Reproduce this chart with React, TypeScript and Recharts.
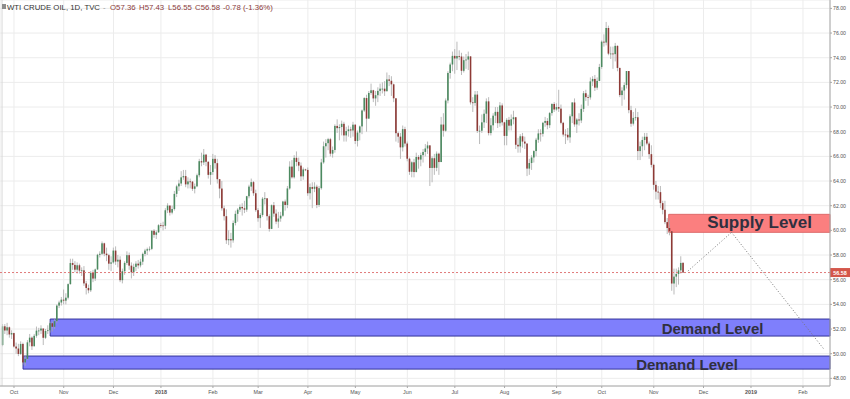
import React from 'react'
import {
  ComposedChart,
  Bar,
  XAxis,
  YAxis,
  CartesianGrid,
  ReferenceArea,
  ReferenceLine,
  ReferenceDot,
} from 'recharts'

// daily candles as [high, low, close]; open = previous close
const firstOpen = 50.7
const sep17 = [[52.4, 50.6, 52.22], [52.4, 51.6, 51.88], [52.5, 51.5, 52.14], [52.2, 51.3, 51.56], [51.9, 51.2, 51.67]]
const oct17 = [
  [51.7, 50.5, 50.58], [50.9, 50.0, 50.42], [50.8, 49.8, 49.98], [51.0, 49.9, 50.79], [50.9, 49.1, 49.29],
  [49.9, 49.0, 49.58], [51.1, 49.5, 50.92], [51.6, 50.6, 51.3], [51.4, 50.3, 50.6], [51.6, 50.6, 51.45],
  [52.2, 51.3, 51.87], [52.1, 51.5, 51.88], [52.3, 51.6, 52.04], [52.0, 50.7, 51.29], [52.0, 51.2, 51.84],
  [52.3, 51.6, 51.9], [52.6, 51.7, 52.47], [52.6, 51.8, 52.18], [52.8, 52.0, 52.64], [54.0, 52.5, 53.9],
  [54.3, 53.7, 54.15], [54.6, 53.9, 54.38],
]
const nov17 = [
  [55.2, 54.0, 54.3], [54.9, 54.0, 54.54], [55.7, 54.4, 55.64], [57.7, 55.6, 57.35], [57.7, 56.8, 57.2],
  [57.5, 56.6, 56.81], [57.4, 56.5, 57.17], [57.3, 56.5, 56.74], [57.0, 56.3, 56.76], [57.1, 55.5, 55.7],
  [55.9, 54.8, 55.33], [55.6, 54.9, 55.14], [56.7, 55.0, 56.55], [56.8, 55.8, 56.09], [56.9, 55.9, 56.83],
  [58.1, 56.8, 58.02], [58.3, 57.8, 58.1], [59.1, 58.0, 58.95], [59.0, 57.9, 58.11], [58.6, 57.5, 57.99],
  [58.1, 56.8, 57.3], [57.9, 56.7, 57.4],
]
const dec17 = [
  [58.6, 57.3, 58.36], [58.7, 57.2, 57.47], [58.0, 57.0, 57.62], [57.9, 55.8, 55.96], [56.9, 55.7, 56.69],
  [57.5, 56.4, 57.36], [58.3, 57.2, 57.99], [58.2, 56.8, 57.14], [57.4, 56.1, 56.6], [57.3, 56.3, 57.04],
  [57.5, 56.7, 57.3], [57.6, 56.9, 57.16], [57.7, 57.0, 57.46], [58.2, 57.2, 58.09], [58.5, 57.9, 58.36],
  [58.6, 58.0, 58.47], [58.7, 58.3, 58.5], [60.0, 58.4, 59.97], [60.1, 59.4, 59.64], [60.0, 59.3, 59.84],
  [60.5, 59.8, 60.42],
]
const jan18 = [
  [60.6, 60.2, 60.4], [60.7, 60.0, 60.37], [61.8, 60.1, 61.63], [62.2, 61.4, 62.01], [62.0, 61.2, 61.44],
  [62.0, 61.3, 61.73], [63.2, 61.6, 62.96], [63.7, 62.7, 63.57], [64.1, 63.2, 63.8], [64.8, 63.6, 64.3],
  [64.9, 64.1, 64.4], [64.9, 63.5, 63.73], [64.3, 63.4, 63.97], [64.2, 63.4, 63.95], [64.0, 63.2, 63.37],
  [63.8, 63.0, 63.57], [64.6, 63.5, 64.47], [65.8, 64.3, 65.61], [66.3, 65.2, 65.51], [66.6, 65.3, 66.14],
  [66.2, 65.2, 65.56], [65.6, 64.2, 64.5], [65.3, 63.7, 64.73],
]
const feb18 = [
  [66.2, 64.5, 65.8], [66.1, 65.0, 65.45], [65.8, 63.8, 64.15], [64.1, 62.6, 63.39], [64.0, 61.6, 61.79],
  [62.0, 60.8, 61.15], [61.7, 58.9, 59.2], [60.0, 58.8, 59.29], [59.8, 58.6, 59.19], [60.8, 59.0, 60.6],
  [61.6, 60.4, 61.34], [61.8, 60.7, 61.68], [62.1, 61.5, 61.9], [62.2, 61.2, 61.79], [62.4, 61.4, 61.68],
  [62.8, 61.5, 62.77], [63.7, 62.6, 63.55], [64.2, 63.2, 63.91], [64.0, 62.8, 63.01], [63.3, 61.5, 61.64],
]
const mar18 = [
  [61.8, 60.7, 60.99], [61.4, 60.2, 61.25], [62.7, 61.1, 62.57], [63.1, 62.1, 62.6], [62.5, 60.8, 61.15],
  [61.3, 59.9, 60.12], [62.1, 60.1, 62.04], [62.3, 61.1, 61.36], [61.7, 60.5, 60.71], [61.5, 60.2, 60.96],
  [61.5, 60.7, 61.19], [62.4, 61.1, 62.34], [62.5, 61.6, 62.06], [63.6, 61.8, 63.4], [65.6, 63.3, 65.17],
  [65.7, 64.2, 64.3], [66.1, 64.2, 65.88], [66.4, 65.2, 65.55], [65.9, 64.8, 65.25], [65.5, 64.0, 64.38],
  [65.1, 64.1, 64.94], [65.0, 64.8, 64.9],
]
const apr18 = [
  [65.1, 62.8, 63.01], [63.8, 62.5, 63.51], [63.9, 61.8, 63.37], [63.9, 63.1, 63.54], [63.7, 61.8, 62.06],
  [63.6, 61.9, 63.42], [65.8, 63.3, 65.51], [67.2, 65.4, 66.82], [67.4, 65.9, 67.07], [67.5, 66.5, 67.39],
  [67.5, 66.0, 66.22], [66.8, 65.9, 66.52], [68.6, 66.3, 68.47], [69.0, 67.9, 68.29], [68.6, 67.3, 68.38],
  [68.9, 67.7, 68.64], [68.8, 67.2, 67.7], [68.4, 67.2, 68.05], [68.5, 67.6, 68.19], [68.4, 67.5, 68.1],
  [68.8, 67.6, 68.57],
]
const may18 = [
  [68.6, 67.0, 67.25], [68.1, 66.8, 67.93], [68.5, 67.3, 68.43], [69.8, 67.8, 69.72], [70.8, 69.6, 70.73],
  [71.0, 68.0, 69.06], [71.3, 69.3, 71.14], [71.9, 71.0, 71.36], [71.4, 70.4, 70.7], [71.3, 70.1, 70.96],
  [71.6, 70.4, 71.31], [71.9, 70.9, 71.49], [72.0, 71.1, 71.49], [72.1, 70.9, 71.28], [72.8, 71.4, 72.24],
  [72.6, 71.7, 72.13], [72.5, 70.9, 71.84], [71.9, 70.4, 70.71], [70.6, 67.2, 67.88], [68.0, 67.1, 67.6],
  [67.9, 65.8, 66.73], [68.5, 66.4, 68.21], [68.4, 66.8, 67.04],
]
const jun18 = [
  [67.2, 65.6, 65.81], [65.9, 64.5, 64.75], [65.6, 64.3, 65.52], [65.8, 64.3, 64.73], [66.3, 64.7, 65.95],
  [66.1, 65.0, 65.74], [66.3, 65.2, 66.1], [66.6, 65.5, 66.36], [67.0, 66.0, 66.64], [67.2, 66.2, 66.89],
  [66.9, 63.6, 65.06], [66.0, 63.9, 65.85], [66.2, 64.5, 65.07], [66.4, 64.8, 66.22], [66.3, 64.5, 65.54],
  [69.2, 65.6, 68.58], [69.5, 67.6, 68.08], [70.7, 68.0, 70.53], [72.9, 70.3, 72.76], [73.6, 72.3, 73.45],
  [74.5, 72.9, 74.15],
]
const jul18 = [
  [74.7, 72.7, 73.94], [75.3, 73.0, 74.14], [74.6, 73.8, 74.1], [74.4, 72.6, 72.94], [74.1, 72.8, 73.8],
  [74.3, 73.1, 73.85], [74.5, 73.0, 74.11], [73.9, 70.2, 70.38], [70.8, 69.6, 70.33], [71.3, 70.1, 71.01],
  [71.3, 67.9, 68.06], [68.5, 67.0, 68.08], [69.4, 67.9, 68.76], [69.8, 68.3, 69.46], [70.7, 68.7, 70.46],
  [70.8, 67.7, 67.89], [69.1, 67.7, 68.52], [69.5, 68.1, 69.3], [70.0, 68.7, 69.61], [70.0, 68.3, 68.69],
  [70.4, 68.4, 70.13], [70.3, 68.5, 68.76],
]
const aug18 = [
  [68.8, 66.9, 67.66], [69.1, 66.9, 68.96], [69.2, 68.1, 68.49], [69.4, 68.1, 69.01], [69.7, 68.6, 69.17],
  [69.2, 66.6, 66.94], [67.5, 66.3, 66.81], [67.8, 66.3, 67.63], [67.9, 66.7, 67.2], [67.6, 66.6, 67.04],
  [67.0, 64.4, 65.01], [65.8, 64.5, 65.46], [66.1, 64.9, 65.91], [66.5, 65.5, 66.43], [67.5, 66.0, 67.35],
  [68.2, 67.1, 67.86], [68.2, 67.2, 67.83], [68.8, 67.6, 68.72], [69.2, 68.4, 68.87], [69.1, 68.2, 68.53],
  [69.6, 68.3, 69.51], [70.3, 69.3, 70.25], [70.4, 69.6, 69.8],
]
const sep18 = [
  [70.3, 69.7, 70.0], [71.4, 69.6, 69.87], [70.2, 68.6, 68.72], [68.8, 67.6, 67.77], [68.2, 67.0, 67.75],
  [68.3, 67.3, 67.54], [69.4, 67.1, 69.25], [70.4, 68.7, 70.37], [70.7, 68.4, 68.59], [69.1, 67.9, 68.99],
  [69.5, 68.5, 68.91], [70.2, 68.7, 69.85], [71.3, 69.6, 71.12], [71.4, 70.5, 70.8], [71.0, 70.1, 70.78],
  [72.4, 70.6, 72.08], [72.5, 71.7, 72.28], [72.6, 71.3, 71.57], [72.4, 71.4, 72.12], [73.5, 72.1, 73.25],
]
const oct18 = [
  [75.4, 73.1, 75.3], [75.9, 74.9, 75.23], [76.9, 75.0, 76.41], [76.6, 74.2, 74.33], [74.9, 73.9, 74.34],
  [74.9, 73.1, 74.29], [75.2, 73.7, 74.96], [75.0, 72.9, 73.17], [73.2, 70.8, 70.97], [71.6, 70.1, 71.34],
  [72.0, 70.6, 71.78], [72.9, 71.5, 72.92], [72.4, 69.5, 69.75], [70.1, 68.4, 68.65], [69.6, 68.5, 69.12],
  [69.9, 68.9, 69.17], [69.6, 65.7, 66.43], [67.2, 65.7, 66.82], [67.6, 66.0, 67.33], [67.9, 66.5, 67.59],
  [67.9, 66.9, 67.04], [67.2, 65.8, 66.18], [66.9, 65.1, 65.31],
]
const nov18 = [
  [65.4, 63.3, 63.69], [64.0, 62.5, 63.14], [63.6, 62.5, 63.1], [63.6, 61.8, 62.21], [62.4, 61.3, 61.67],
  [62.4, 60.5, 60.67], [61.0, 59.7, 60.19], [60.8, 59.6, 59.93], [59.9, 55.1, 55.69], [56.9, 54.8, 56.25],
  [56.9, 55.4, 56.46], [57.0, 55.6, 56.76], [57.9, 56.5, 57.36], [57.43, 56.55, 56.58],
]

const monthTicks = [0, 22, 44, 65, 88, 108, 130, 151, 174, 195, 217, 240, 260, 283, 305, 326, 349]
const monthLabels = ['Oct', 'Nov', 'Dec', '2018', 'Feb', 'Mar', 'Apr', 'May', 'Jun', 'Jul', 'Aug', 'Sep', 'Oct', 'Nov', 'Dec', '2019', 'Feb']
const priceTicks = [48, 50, 52, 54, 56, 58, 60, 62, 64, 66, 68, 70, 72, 74, 76, 78]

const lastPrice = 56.58
const supplyZone = { from: 289.6, low: 59.84, high: 61.3 }
const demandUpper = { from: 16, low: 51.43, high: 52.81 }
const demandLower = { from: 4, low: 48.75, high: 49.81 }
const projection = [
  { x: 298.1, y: 56.7 },
  { x: 317.4, y: 59.84 },
  { x: 358.2, y: 50.38 },
]

const X_MIN = -6.19
const X_MAX = 360.95
const FIRST_INDEX = -5

const candles: any[] = []
{
  let prev = firstOpen
  let i = FIRST_INDEX
  for (const month of [sep17, oct17, nov17, dec17, jan18, feb18, mar18, apr18, may18, jun18, jul18, aug18, sep18, oct18, nov18]) {
    for (const [hi, lo, c] of month) {
      const o = prev
      const h = Math.max(hi, o, c)
      const l = Math.min(lo, o, c)
      candles.push({ i, o, h, l, c, range: [l, h] })
      prev = c
      i++
    }
  }
}

function Candle(props: any) {
  const { x, y, width, height, payload } = props
  if (!payload || x == null) return null
  const { o, h, l, c } = payload
  const top = Math.min(y, y + height)
  const span = Math.abs(height)
  const k = span / (h - l || 1)
  const cx = x + width / 2
  const y1 = top + (h - Math.max(o, c)) * k
  const y2 = top + (h - Math.min(o, c)) * k
  const up = c >= o
  return (
    <g>
      <line x1={cx} x2={cx} y1={top} y2={top + span} stroke="#a8a8a8" strokeWidth={0.8} />
      <rect x={cx - 0.8} y={y1} width={1.6} height={Math.max(0.8, y2 - y1)} fill={up ? '#4c8a60' : '#8e3a36'} />
    </g>
  )
}

function MonthTick(props: any) {
  const { x, y, payload } = props
  const idx = monthTicks.indexOf(payload.value)
  const label = monthLabels[idx] ?? ''
  return (
    <text x={x} y={y + 3.5} textAnchor="middle" fontSize={5.4} fill="#555" fontFamily="Liberation Sans" fontWeight={label.startsWith('20') ? 'bold' : 'normal'}>
      {label}
    </text>
  )
}

function zoneText(text: string, size: number) {
  return (p: any) => (
    <text x={p.cx} y={p.cy} textAnchor="middle" dominantBaseline="central" fontSize={size} fontWeight="bold" fill="#30303f" fontFamily="Liberation Sans">
      {text}
    </text>
  )
}

function PriceTag(props: any) {
  const { viewBox } = props
  if (!viewBox) return null
  const x = viewBox.x + viewBox.width
  const y = viewBox.y
  return (
    <g>
      <rect x={x} y={y - 4.5} width={20} height={9} fill="#d4574b" />
      <text x={x + 10} y={y + 0.3} textAnchor="middle" dominantBaseline="central" fontSize={5.4} fontWeight="bold" fill="#fff" fontFamily="Liberation Sans">
        {lastPrice.toFixed(2)}
      </text>
    </g>
  )
}

export default function App() {
  return (
    <div style={{ position: 'absolute', left: 0, top: 0, width: 850, height: 399, background: '#fff' }}>
      <ComposedChart width={850} height={399} data={candles} margin={{ top: 0, right: 0, bottom: 0, left: 0 }}>
        <CartesianGrid stroke="#ececec" />
        <XAxis
          dataKey="i"
          type="number"
          domain={[X_MIN, X_MAX]}
          allowDataOverflow
          ticks={monthTicks}
          interval={0}
          height={13}
          tickSize={2}
          tick={<MonthTick />}
          axisLine={{ stroke: '#a8a8a8' }}
          tickLine={{ stroke: '#a8a8a8' }}
        />
        <YAxis
          orientation="right"
          type="number"
          domain={[47.38, 78.68]}
          allowDataOverflow
          ticks={priceTicks}
          interval={0}
          width={20}
          tickSize={2}
          tickMargin={1}
          tick={{ fontSize: 5.2, fill: '#555', fontFamily: 'Liberation Sans' }}
          tickFormatter={(v: number) => v.toFixed(2)}
          axisLine={{ stroke: '#a8a8a8' }}
          tickLine={{ stroke: '#a8a8a8' }}
        />
        <ReferenceLine x={X_MIN + 0.9} stroke="#d8d8d8" />
        <ReferenceLine y={lastPrice} stroke="#e07a7a" strokeDasharray="2 2" label={<PriceTag />} />
        <Bar dataKey="range" barSize={2} shape={Candle} isAnimationActive={false} />
        <ReferenceArea x1={demandLower.from} x2={X_MAX} y1={demandLower.low} y2={demandLower.high} fill="#7f7ffc" fillOpacity={1} stroke="#34349a" />
        <ReferenceArea x1={demandUpper.from} x2={X_MAX} y1={demandUpper.low} y2={demandUpper.high} fill="#7f7ffc" fillOpacity={1} stroke="#34349a" />
        <ReferenceArea x1={supplyZone.from} x2={X_MAX} y1={supplyZone.low} y2={supplyZone.high} fill="#fb7f7f" fillOpacity={1} stroke="#de6a6a" />
        <ReferenceLine segment={[projection[0], projection[1]]} stroke="#777" strokeDasharray="1 2" />
        <ReferenceLine segment={[projection[1], projection[2]]} stroke="#777" strokeDasharray="1 2" />
        <ReferenceDot x={329.8} y={60.62} r={1} shape={zoneText('Supply Level', 17)} />
        <ReferenceDot x={309.0} y={52.08} r={1} shape={zoneText('Demand Level', 15)} />
        <ReferenceDot x={297.7} y={49.14} r={1} shape={zoneText('Demand Level', 15)} />
      </ComposedChart>
      <svg width={300} height={16} style={{ position: 'absolute', left: 0, top: 0 }}>
        <rect x={2} y={4} width={4} height={5} fill="#8d8d8d" />
        <text x={7} y={9.5} fontSize={7.8} fill="#333" fontFamily="Liberation Sans">WTI CRUDE OIL, 1D, TVC</text>
        <text x={103} y={9.5} fontSize={7.8} fill="#999" fontFamily="Liberation Sans">-</text>
        <g fontSize={7.8} fill="#8b3b3b" fontFamily="Liberation Sans">
          <text x={110} y={9.5}>O57.36</text>
          <text x={139} y={9.5}>H57.43</text>
          <text x={168} y={9.5}>L56.55</text>
          <text x={195} y={9.5}>C56.58</text>
          <text x={223} y={9.5}>-0.78 (-1.36%)</text>
        </g>
      </svg>
    </div>
  )
}
